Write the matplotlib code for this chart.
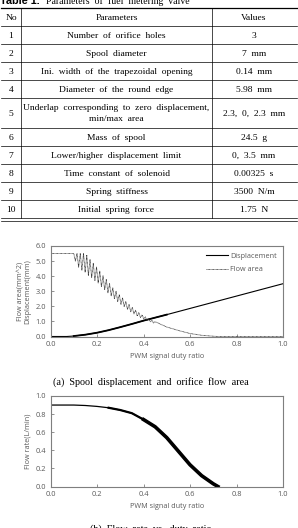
import matplotlib
matplotlib.use("Agg")
import matplotlib.pyplot as plt

# Table data
nos = ['No', '1', '2', '3', '4', '5', '6', '7', '8', '9', '10']
params = ['Parameters', 'Number  of  orifice  holes', 'Spool  diameter',
          'Ini.  width  of  the  trapezoidal  opening', 'Diameter  of  the  round  edge',
          'Underlap  corresponding  to  zero  displacement,\nmin/max  area',
          'Mass  of  spool', 'Lower/higher  displacement  limit',
          'Time  constant  of  solenoid', 'Spring  stiffness', 'Initial  spring  force']
values = ['Values', '3', '7  mm', '0.14  mm', '5.98  mm', '2.3,  0,  2.3  mm', '24.5  g',
          '0,  3.5  mm', '0.00325  s', '3500  N/m', '1.75  N']

# (a) spool displacement vs PWM duty ratio
disp_x = [0, 0.07, 0.1, 0.15, 0.2, 0.25, 0.3, 0.35, 0.4, 0.5, 0.6, 0.7, 0.8, 0.9, 1.0]
disp_y = [0, 0, 0.03, 0.12, 0.25, 0.42, 0.62, 0.83, 1.05, 1.45, 1.86, 2.27, 2.68, 3.09, 3.5]

# (a) orifice flow area (oscillating part read as zigzag)
area_x = [0, 0.1, 0.107, 0.114, 0.121, 0.128, 0.135, 0.142, 0.149, 0.156, 0.163, 0.17,
          0.177, 0.184, 0.191, 0.198, 0.205, 0.212, 0.219, 0.226, 0.233, 0.24, 0.247,
          0.254, 0.261, 0.268, 0.275, 0.282, 0.289, 0.296, 0.303, 0.31, 0.317, 0.324,
          0.331, 0.338, 0.345, 0.352, 0.359, 0.366, 0.373, 0.38, 0.387, 0.394, 0.401,
          0.408, 0.415, 0.422, 0.429, 0.436, 0.443, 0.45, 0.5, 0.55, 0.6, 0.65, 0.7,
          0.72, 1.0]
area_y = [5.5, 5.5, 5.0, 5.5, 4.6, 5.5, 4.4, 5.5, 4.25, 5.4, 4.05, 5.1,
          3.9, 4.85, 3.72, 4.6, 3.55, 4.33, 3.3, 4.02, 3.1, 3.78, 2.9,
          3.5, 2.7, 3.22, 2.5, 3.0, 2.32, 2.78, 2.13, 2.55, 1.98, 2.32,
          1.8, 2.12, 1.64, 1.92, 1.5, 1.74, 1.36, 1.58, 1.26, 1.44, 1.16,
          1.3, 1.07, 1.18, 0.98, 1.07, 0.9, 0.98, 0.63, 0.4, 0.2, 0.08, 0.02,
          0, 0]

# (b) flow rate vs PWM duty ratio
rate_x = [0, 0, 0.05, 0.1, 0.15, 0.2, 0.25, 0.3, 0.35, 0.4, 0.45, 0.5, 0.55, 0.6,
          0.65, 0.7, 0.72]
rate_y = [0, 0.9, 0.9, 0.9, 0.895, 0.885, 0.87, 0.845, 0.81, 0.74, 0.66, 0.54, 0.39,
          0.24, 0.12, 0.03, 0.0]

fig = plt.figure(figsize=(2.98, 5.28), dpi=100)

# ---- table (pixel coordinates) ----
tab = fig.add_axes([0, 0, 1, 1])
tab.set_xlim(0, 298)
tab.set_ylim(528, 0)
tab.axis('off')
serif = 'Liberation Serif'

tab.text(0, 1.5, 'Table 1.', fontsize=7.8, fontweight='bold', family='Liberation Sans',
         ha='left', va='center')
tab.text(46, 1.5, 'Parameters  of  fuel  metering  valve', fontsize=7, family=serif,
         ha='left', va='center')

edges = [8, 26, 44, 62, 80, 98, 128, 146, 164, 182, 200, 218]
for i in range(len(nos)):
    yc = (edges[i] + edges[i + 1]) / 2 + 0.5
    tab.text(11, yc, nos[i], fontsize=6.8, family=serif, ha='center', va='center')
    tab.text(116.5, yc, params[i], fontsize=6.8, family=serif, ha='center', va='center',
             linespacing=1.4)
    tab.text(254, yc, values[i], fontsize=6.8, family=serif, ha='center', va='center')
for k, e in enumerate(edges):
    lw = 0.9 if k == 0 else 0.5
    tab.plot([1, 297], [e, e], color='black', lw=lw)
tab.plot([1, 297], [220.5, 220.5], color='black', lw=0.5)
for xv in [21, 212]:
    tab.plot([xv, xv], [8, 218], color='black', lw=0.5)

gray = '#7f7f7f'
tick_col = '#595959'
sans = 'Open Sans'


def style(ax):
    for s in ax.spines.values():
        s.set_color(gray)
        s.set_linewidth(0.8)
    ax.tick_params(direction='in', length=2, width=0.6, color=gray, labelsize=5.4,
                   labelcolor=tick_col, pad=3)
    for lab in ax.get_xticklabels() + ax.get_yticklabels():
        lab.set_family(sans)


# ---- chart (a) ----
ax1 = fig.add_axes([50.5 / 298, (528 - 336.5) / 528, 232.5 / 298, 90.5 / 528])
ax1.plot(disp_x, disp_y, color='black', lw=0.8, label='Displacement')
ax1.plot(disp_x[2:10], disp_y[2:10], color='black', lw=1.3)
ax1.plot(area_x, area_y, color='#333333', lw=0.6, ls=(0, (1, 0.6)), label='Flow area')
ax1.set_xlim(0, 1)
ax1.set_ylim(0, 6)
ax1.set_xticks([0, 0.2, 0.4, 0.6, 0.8, 1.0])
ax1.set_yticks([0, 1, 2, 3, 4, 5, 6])
ax1.set_xticklabels(['0.0', '0.2', '0.4', '0.6', '0.8', '1.0'])
ax1.set_yticklabels(['0.0', '1.0', '2.0', '3.0', '4.0', '5.0', '6.0'])
style(ax1)
ax1.set_xlabel('PWM signal duty ratio', fontsize=5.2, family=sans, color=tick_col,
               labelpad=4)
ax1.set_ylabel('Flow area(mm^2)\nDisplacement(mm)', fontsize=5.2, family=sans,
               color=tick_col, labelpad=3, linespacing=1.0)
leg = ax1.legend(loc='upper right', frameon=False, handlelength=3.0,
                 handletextpad=0.3, labelspacing=0.9, borderaxespad=0.5,
                 prop={'family': sans, 'size': 5.2})
for t in leg.get_texts():
    t.set_color(tick_col)

tab.text(151, 382, '(a)  Spool  displacement  and  orifice  flow  area', fontsize=7.3,
         family=serif, ha='center', va='center')

# ---- chart (b) ----
ax2 = fig.add_axes([50.5 / 298, (528 - 486.5) / 528, 232.5 / 298, 90.5 / 528])
ax2.plot(rate_x, rate_y, color='black', lw=0.9)
ax2.plot(rate_x[6:], rate_y[6:], color='black', lw=1.6)
ax2.plot(rate_x[9:], rate_y[9:], color='black', lw=2.6)
ax2.set_xlim(0, 1)
ax2.set_ylim(0, 1)
ax2.set_xticks([0, 0.2, 0.4, 0.6, 0.8, 1.0])
ax2.set_yticks([0, 0.2, 0.4, 0.6, 0.8, 1.0])
ax2.set_xticklabels(['0.0', '0.2', '0.4', '0.6', '0.8', '1.0'])
ax2.set_yticklabels(['0.0', '0.2', '0.4', '0.6', '0.8', '1.0'])
style(ax2)
ax2.set_xlabel('PWM signal duty ratio', fontsize=5.2, family=sans, color=tick_col,
               labelpad=4)
ax2.set_ylabel('Flow rate(L/min)', fontsize=5.2, family=sans, color=tick_col, labelpad=3)

tab.text(151, 529, '(b)  Flow  rate  vs.  duty  ratio', fontsize=7.3,
         family=serif, ha='center', va='center')

fig.savefig('out.png', dpi=100)
